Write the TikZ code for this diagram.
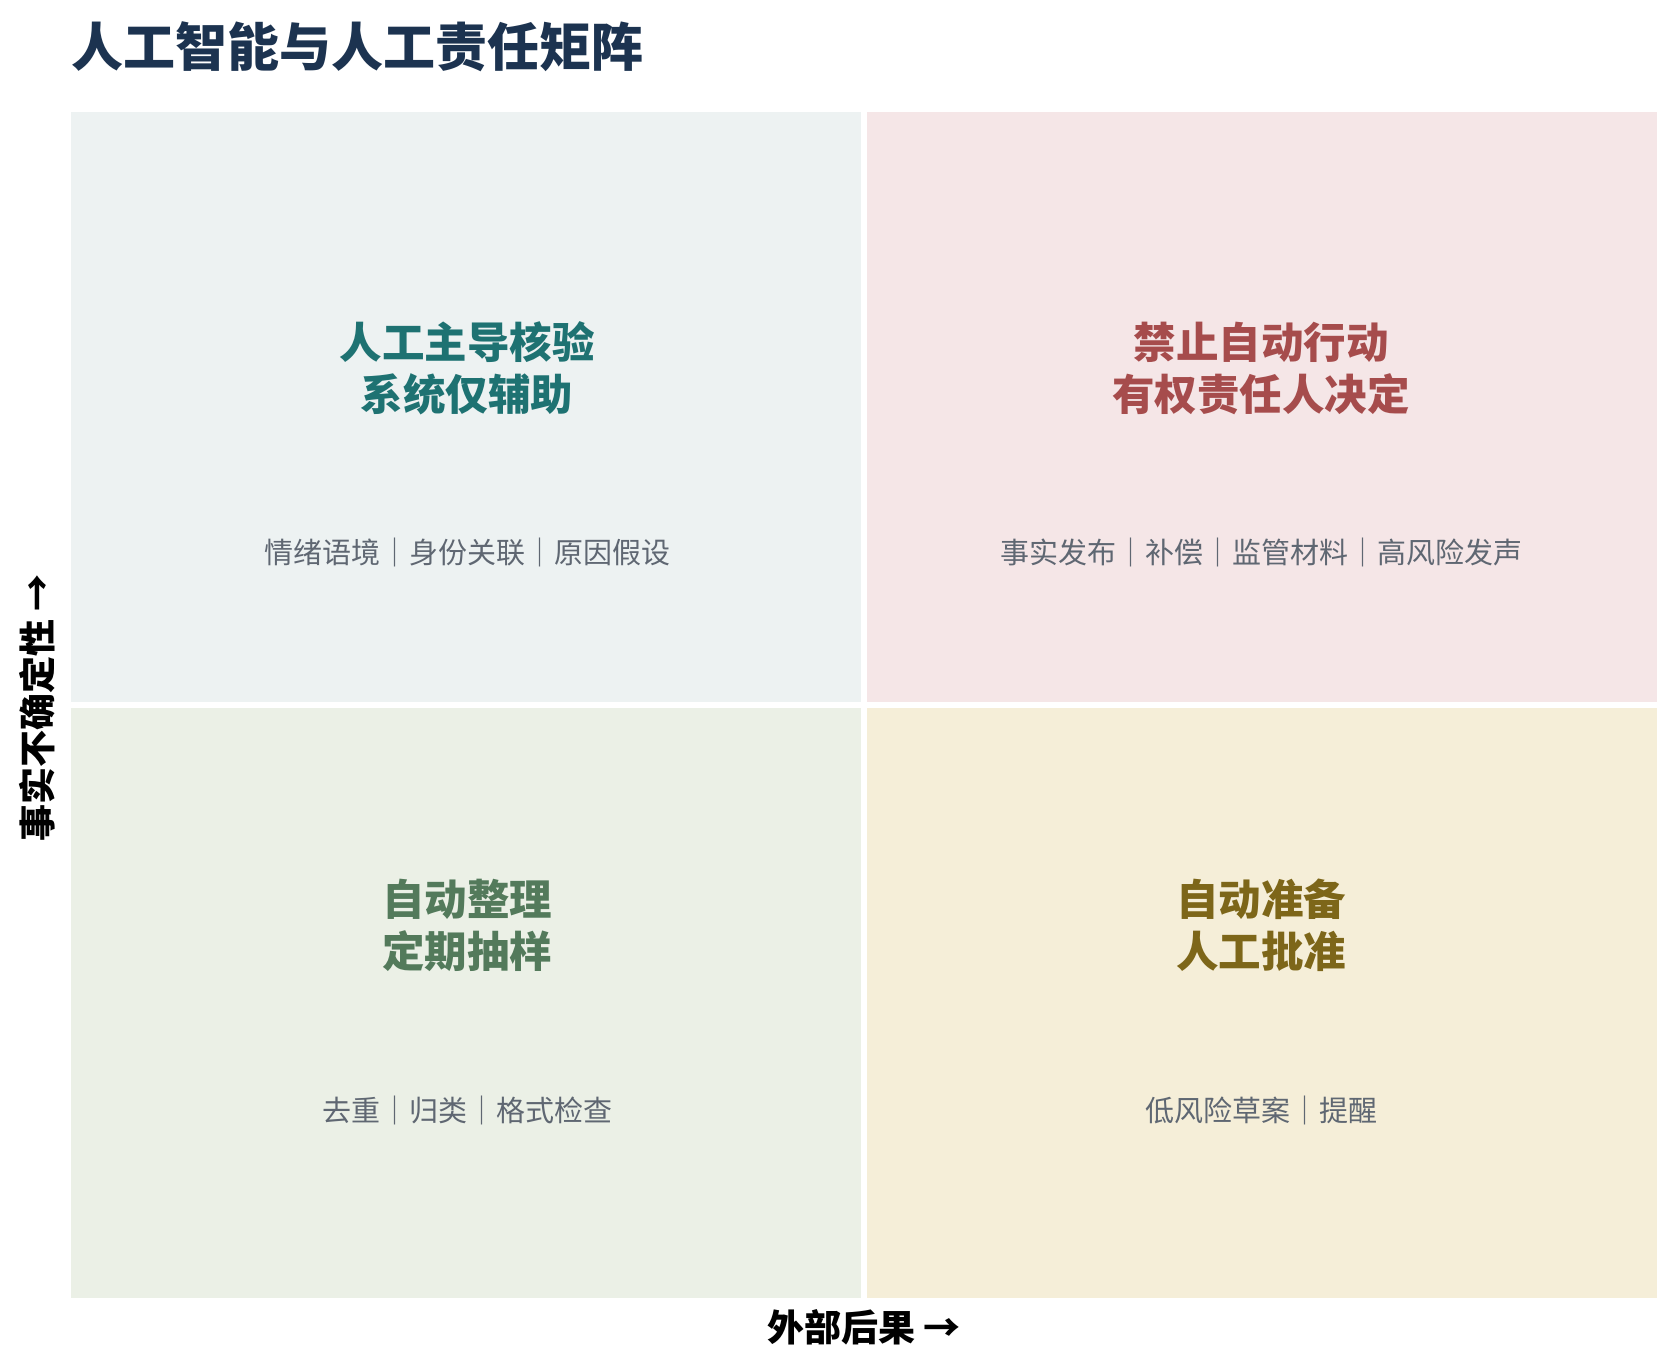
\documentclass[tikz,border=0pt]{standalone}
\usepackage{fontspec}
\setmainfont{Noto Sans CJK SC}
\definecolor{bgTL}{HTML}{EDF2F2}
\definecolor{bgTR}{HTML}{F5E6E7}
\definecolor{bgBL}{HTML}{EBF0E6}
\definecolor{bgBR}{HTML}{F5EED8}
\definecolor{cTL}{HTML}{1E7272}
\definecolor{cTR}{HTML}{A64C4C}
\definecolor{cBL}{HTML}{537A5B}
\definecolor{cBR}{HTML}{7D6619}
\definecolor{cItem}{HTML}{5F6772}
\definecolor{cHead}{HTML}{1C3350}
\begin{document}
\begin{tikzpicture}[x=1pt,y=-1pt,
  qtitle/.style={inner sep=0pt,align=center,font=\fontsize{42.5}{52}\selectfont\bfseries},
  qitems/.style={inner sep=0pt,text=cItem,font=\fontsize{29}{34}\selectfont},
  axislabel/.style={inner sep=0pt,text=black,font=\fontsize{37}{42}\selectfont\bfseries}]
\useasboundingbox (0,0) rectangle (1678,1369);
\fill[white] (0,0) rectangle (1678,1369);
% quadrants
\fill[bgTL] (71,112) rectangle (861,701.7);
\fill[bgTR] (866.7,112) rectangle (1657,701.7);
\fill[bgBL] (71,707.7) rectangle (861,1298);
\fill[bgBR] (866.7,707.7) rectangle (1657,1298);
% heading
\node[anchor=west,inner sep=0pt,text=cHead,font=\fontsize{52}{60}\selectfont\bfseries] (head) at (71,46.6) {人工智能与人工责任矩阵};
% quadrant titles
\node[qtitle,text=cTL] (tTL) at (467,368) {人工主导核验\\系统仅辅助};
\node[qtitle,text=cTR] (tTR) at (1261,368) {禁止自动行动\\有权责任人决定};
\node[qtitle,text=cBL] (tBL) at (467,925) {自动整理\\定期抽样};
\node[qtitle,text=cBR] (tBR) at (1261,925) {自动准备\\人工批准};
% items
\node[qitems] (iTL) at (467,552.5) {情绪语境｜身份关联｜原因假设};
\node[qitems] (iTR) at (1261,552.5) {事实发布｜补偿｜监管材料｜高风险发声};
\node[qitems] (iBL) at (467,1110) {去重｜归类｜格式检查};
\node[qitems] (iBR) at (1261,1110) {低风险草案｜提醒};
% axis labels
\node[axislabel] (xlab) at (864,1327) {外部后果 →};
\node[axislabel,rotate=90] (ylab) at (37,708) {事实不确定性 →};
\end{tikzpicture}
\end{document}
